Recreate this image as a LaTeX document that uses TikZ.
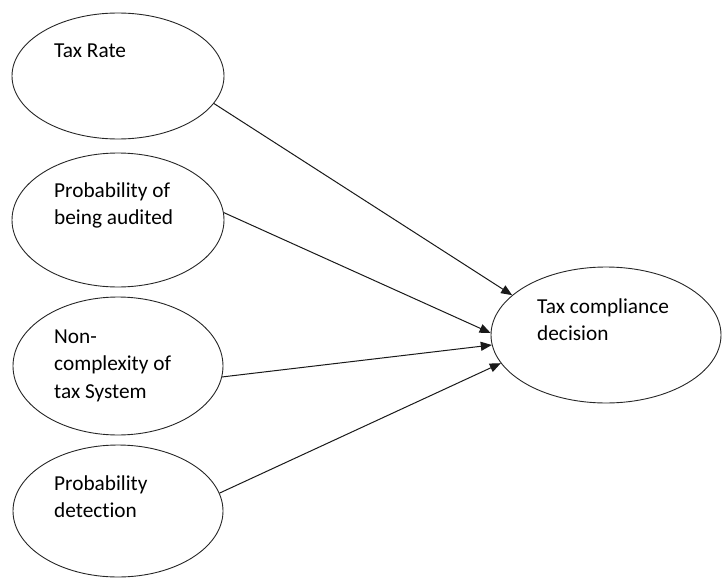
\documentclass[tikz,border=0pt]{standalone}
\usepackage{fontspec}
\setmainfont[Ligatures={NoCommon,NoRare,NoContextual}]{Carlito}
\usetikzlibrary{shapes.geometric,arrows.meta}
\begin{document}
\begin{tikzpicture}[x=1pt,y=-1pt,
  oval/.style={draw=black!85,line width=0.9pt,ellipse,inner sep=0pt},
  lbl/.style={anchor=base west,inner sep=0pt,font=\fontsize{21.3}{27.5}\selectfont},
  link/.style={draw=black!90,line width=1pt,-{Triangle[length=11pt,width=9pt]}}]
\useasboundingbox (0,0) rectangle (722,578);
\node[oval,minimum width=212pt,minimum height=126pt] (e1) at (118,76) {};
\node[oval,minimum width=212pt,minimum height=134pt] (e2) at (118,220) {};
\node[oval,minimum width=210pt,minimum height=138pt] (e3) at (118,366) {};
\node[oval,minimum width=210pt,minimum height=132pt] (e4) at (118,511) {};
\node[oval,minimum width=230pt,minimum height=136pt] (t) at (606,335) {};
\node[lbl] (l1) at (54,57) {Tax Rate};
\node[lbl] (l2) at (54,197) {\begin{tabular}[t]{@{}l@{}}Probability of\\being audited\end{tabular}};
\node[lbl] (l3) at (54,343) {\begin{tabular}[t]{@{}l@{}}Non-\\complexity of\\tax System\end{tabular}};
\node[lbl] (l4) at (54,490) {\begin{tabular}[t]{@{}l@{}}Probability\\detec\kern0pt tion\end{tabular}};
\node[lbl] (l5) at (537,313) {\begin{tabular}[t]{@{}l@{}}Tax compliance\\decision\end{tabular}};
\draw[link] (e1.-16.5) -- (t.157.8);
\draw[link] (e2.4) -- (t.179);
\draw[link] (e3.-6.5) -- (t.185);
\draw[link] (e4.10.5) -- (t.195.3);
\end{tikzpicture}
\end{document}
